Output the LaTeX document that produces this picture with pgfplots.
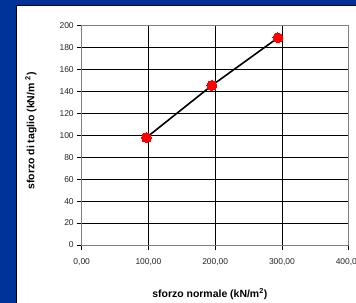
\documentclass[border=0pt]{standalone}
\usepackage{fontspec}
\setmainfont{Liberation Sans}
\usepackage{pgfplots}
\pgfplotsset{compat=1.18}
\definecolor{bgblue}{HTML}{003399}
\definecolor{ptred}{HTML}{FF0000}
\begin{document}
\begin{tikzpicture}
\useasboundingbox (0,0) rectangle (356bp,303bp);
\fill[bgblue] (0,0) rectangle (356bp,303bp);
\fill[white] (16bp,0) rectangle (357bp,298bp);
\draw[black, line width=0.8bp] (16bp,-1bp) -- (16bp,298bp) -- (357bp,298bp);
\begin{axis}[
  at={(81.7bp,58bp)}, anchor=south west,
  scale only axis, width=267bp, height=219.3bp,
  xmin=0, xmax=400, ymin=0, ymax=200,
  xtick={0,100,200,300,400}, ytick={0,20,...,200},
  grid=major, major grid style={black, line width=0.6bp},
  axis on top,
  axis line style={gray, line width=0.7bp},
  tick style={black, line width=0.6bp},
  tick align=outside, major tick length=4.5bp,
  xtick pos=left, ytick pos=left,
  /pgf/number format/assume math mode=true,
  ticklabel style={font=\fontsize{8.5}{10}\selectfont, text=black!85},
  xticklabel style={/pgf/number format/.cd, fixed, fixed zerofill, precision=2, use comma, 1000 sep={}},
  yticklabel style={/pgf/number format/.cd, fixed, precision=0, 1000 sep={}},
  xticklabel shift=5.5bp,
  yticklabel shift=0bp,
  xlabel={\bfseries sforzo normale (kN/m\textsuperscript{2})},
  ylabel={\bfseries sforzo di taglio (kN/m \textsuperscript{2})},
  label style={font=\fontsize{10.5}{12}\selectfont},
  xlabel style={at={(axis description cs:0.480,-0.2234)}, anchor=center},
  ylabel style={at={(axis description cs:-0.190,0.520)}, anchor=center},
  clip=false,
]
\addplot[black, line width=1.6bp, mark=*, mark size=5bp,
  mark options={fill=ptred, draw=ptred, line width=0pt}]
  coordinates {(97,98) (195,145.5) (294,189)};
\draw[black, line width=0.8bp] (axis cs:0,200) -- (axis cs:0,0) -- (axis cs:400,0);
\end{axis}
\end{tikzpicture}
\end{document}
